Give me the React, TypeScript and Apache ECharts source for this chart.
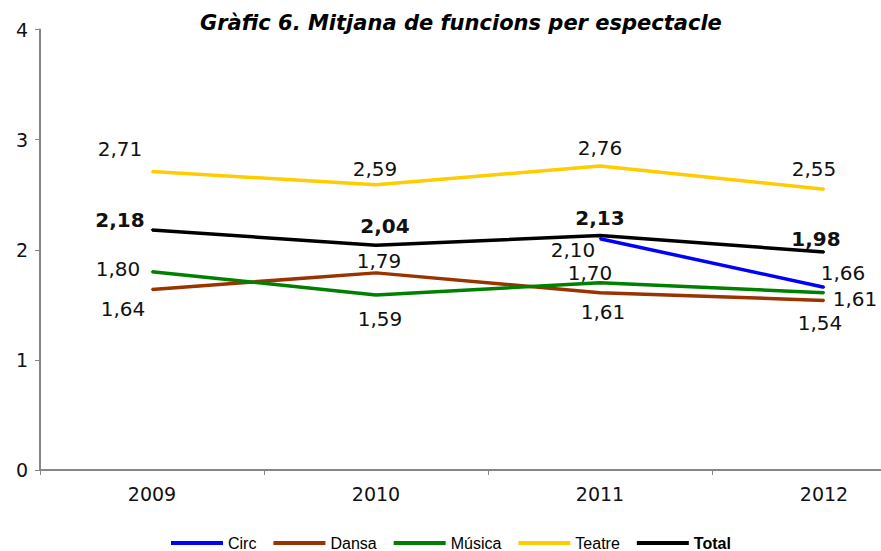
import React, { useEffect, useRef } from "react";
import * as echarts from "echarts";

const years = ["2009", "2010", "2011", "2012"];
const circ = [null, null, 2.1, 1.66];
const dansa = [1.64, 1.79, 1.61, 1.54];
const musica = [1.8, 1.59, 1.7, 1.61];
const teatre = [2.71, 2.59, 2.76, 2.55];
const total = [2.18, 2.04, 2.13, 1.98];
const yTicks = [0, 1, 2, 3, 4];

// label offsets [dx, dy] relative to the point, per series
const circOff = [null, null, [-27, 11], [19, -14]];
const dansaOff = [[-29, 20], [3, -12], [3, 19], [-4, 23]];
const musicaOff = [[-34, -3], [4, 24], [-10, -10], [31, 6]];
const teatreOff = [[-32, -23], [-1, -16], [0, -18], [-10, -20]];
const totalOff = [[-32, -10], [9, -19], [0, -17], [-8, -13]];

const fmt = (v: number) => v.toFixed(2).replace(".", ",");

function buildData(vals: (number | null)[], offs: any[], bold: boolean) {
  return vals.map((v, i) => {
    if (v === null) return null;
    return {
      value: v,
      label: {
        show: true,
        position: "inside",
        offset: offs[i],
        align: "center",
        verticalAlign: "middle",
        formatter: () => fmt(v),
        fontFamily: "DejaVu Sans",
        fontSize: 20,
        fontWeight: bold ? "bold" : "normal",
        color: "#111",
      },
    };
  });
}

export default function App() {
  const ref = useRef<HTMLDivElement>(null);
  useEffect(() => {
    if (!ref.current) return;
    const chart = echarts.init(ref.current, undefined, { renderer: "svg" });
    const mk = (name: string, vals: any[], offs: any[], color: string, bold = false) => ({
      name,
      type: "line",
      data: buildData(vals, offs, bold),
      symbol: "circle",
      symbolSize: 2,
      showSymbol: true,
      lineStyle: { color, width: 3.5 },
      itemStyle: { color },
      connectNulls: false,
      z: bold ? 5 : 3,
    });
    chart.setOption({
      animation: false,
      backgroundColor: "#ffffff",
      title: {
        text: "Gràfic 6. Mitjana de funcions per espectacle",
        left: 195,
        top: 7,
        textStyle: {
          fontFamily: "DejaVu Sans",
          fontSize: 21,
          fontWeight: "bold",
          fontStyle: "italic",
          color: "#000",
        },
      },
      legend: {
        left: 171,
        top: 535,
        padding: 0,
        itemWidth: 52,
        itemHeight: 4,
        itemGap: 17,
        icon: "rect",
        textStyle: { fontFamily: "Liberation Sans", fontSize: 16, lineHeight: 15, color: "#000" },
        data: [
          { name: "Circ" },
          { name: "Dansa" },
          { name: "Música" },
          { name: "Teatre" },
          { name: "Total", textStyle: { fontWeight: "bold" } },
        ],
      },
      grid: { left: 40, top: 29.5, width: 896, height: 440.5 },
      xAxis: {
        type: "category",
        data: years,
        boundaryGap: true,
        axisLine: { lineStyle: { color: "#868686", width: 2 } },
        axisTick: { show: true, length: 5, lineStyle: { color: "#868686" } },
        axisLabel: { fontFamily: "DejaVu Sans", fontSize: 19, color: "#111", margin: 14 },
      },
      yAxis: {
        type: "value",
        min: 0,
        max: 4,
        interval: 1,
        splitLine: { show: false },
        axisLine: { show: true, lineStyle: { color: "#868686", width: 2 } },
        axisTick: { show: true, length: 5, lineStyle: { color: "#868686" } },
        axisLabel: {
          fontFamily: "DejaVu Sans",
          fontSize: 19,
          color: "#111",
          margin: 12,
          formatter: (v: number) => (yTicks.includes(v) ? String(v) : ""),
        },
      },
      series: [
        mk("Circ", circ, circOff, "#0000FF"),
        mk("Dansa", dansa, dansaOff, "#993300"),
        mk("Música", musica, musicaOff, "#008000"),
        mk("Teatre", teatre, teatreOff, "#FFCC00"),
        mk("Total", total, totalOff, "#000000", true),
      ],
    });
    return () => chart.dispose();
  }, []);
  return (
    <div
      style={{
        position: "absolute",
        left: 0,
        top: 0,
        width: 881,
        height: 551,
        overflow: "hidden",
        background: "#fff",
      }}
    >
      <div ref={ref} style={{ width: 960, height: 551 }} />
    </div>
  );
}
